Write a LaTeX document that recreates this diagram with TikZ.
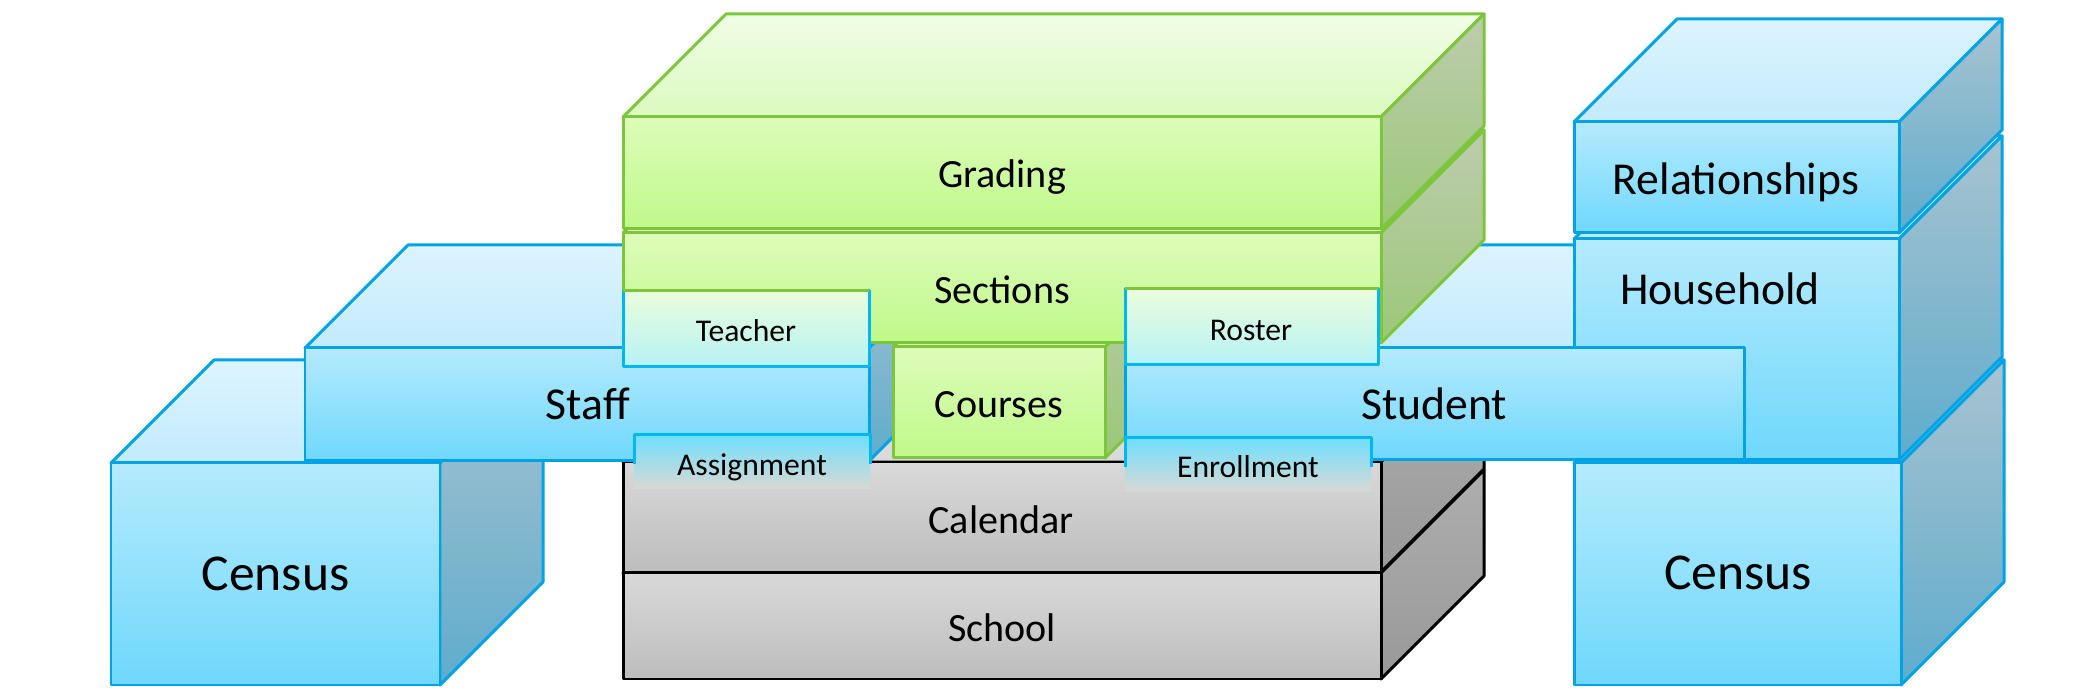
\documentclass[tikz,border=0pt]{standalone}
\usepackage{fontspec}
\setmainfont{Carlito}
\usepackage{xcolor}

\definecolor{bluF1}{HTML}{B5EAFD}
\definecolor{bluF2}{HTML}{6FD8FC}
\definecolor{bluT1}{HTML}{DDF4FE}
\definecolor{bluT2}{HTML}{C2EBFC}
\definecolor{bluR1}{HTML}{A8C3D0}
\definecolor{bluR2}{HTML}{5FACCD}
\definecolor{bluL}{HTML}{00A3E4}
\definecolor{grnF1}{HTML}{DDFCBA}
\definecolor{grnF2}{HTML}{BFF98A}
\definecolor{grnT1}{HTML}{F1FDE6}
\definecolor{grnT2}{HTML}{DBFABF}
\definecolor{grnR1}{HTML}{BDCCAE}
\definecolor{grnR2}{HTML}{9BC878}
\definecolor{grnL}{HTML}{7DC63B}
\definecolor{gryF1}{HTML}{D9D9D9}
\definecolor{gryF2}{HTML}{BDBDBD}
\definecolor{gryT1}{HTML}{E6E6E6}
\definecolor{gryT2}{HTML}{D9D9D9}
\definecolor{gryR1}{HTML}{AEAEAE}
\definecolor{gryR2}{HTML}{999999}
\definecolor{gryL}{HTML}{000000}
\definecolor{tabL}{HTML}{00B8F0}
\definecolor{tabG1}{HTML}{EAFDDD}
\definecolor{tabG2}{HTML}{D2FAB4}
\definecolor{tabG3}{HTML}{B6F2F5}
\definecolor{tabC1}{HTML}{6EDFFD}
\definecolor{tabC2}{HTML}{86DDF8}
\definecolor{tabC3}{HTML}{D9D9D4}

\begin{document}
\begin{tikzpicture}[line width=0.85pt, line join=round,
    lblbig/.style={anchor=base, font=\fontsize{14.7}{17}\selectfont},
    lbl/.style={anchor=base, font=\fontsize{13}{15}\selectfont},
    lblmid/.style={anchor=base, font=\fontsize{11.4}{13}\selectfont},
    lbltab/.style={anchor=base, font=\fontsize{9}{11}\selectfont}]
\useasboundingbox (0,0) rectangle (20.96,6.96);
\def\d{1.03}
% boxes, drawn from back to front
\foreach \xa/\xb/\ya/\yb/\col in {1.11/4.40/0.11/2.33/blu, 6.23/13.81/0.17/1.23/gry,
        6.23/13.81/1.24/2.34/gry, 3.05/8.69/2.35/3.48/blu, 8.93/11.05/2.38/3.49/grn,
        11.25/17.44/2.36/3.48/blu, 6.23/13.81/3.53/4.63/grn, 6.23/13.81/4.67/5.79/grn,
        15.74/19.01/0.11/2.33/blu, 15.74/18.99/2.36/4.57/blu, 15.74/18.99/4.63/5.74/blu} {
    \shadedraw[draw=\col L, top color=\col T1, bottom color=\col T2]
        (\xa,\yb) -- (\xb,\yb) -- (\xb+\d,\yb+\d) -- (\xa+\d,\yb+\d) -- cycle;
    \shadedraw[draw=\col L, top color=\col R1, bottom color=\col R2]
        (\xb,\ya) -- (\xb+\d,\ya+\d) -- (\xb+\d,\yb+\d) -- (\xb,\yb) -- cycle;
    \shadedraw[draw=\col L, top color=\col F1, bottom color=\col F2]
        (\xa,\ya) rectangle (\xb,\yb);
}
% student front lies over household
\shadedraw[draw=bluL, top color=bluF1, bottom color=bluF2] (11.25,2.36) rectangle (17.44,3.48);

% tabs
\foreach \xa/\xb/\ya/\yb in {6.23/8.69/3.29/4.05, 11.25/13.78/3.31/4.07} {
    \shadedraw[draw=tabL, top color=tabG1, middle color=tabG2, bottom color=tabG3]
        (\xa,\ya) rectangle (\xb,\yb);
    \draw[grnL] (\xa,\yb) -- (\xb,\yb);
}
\foreach \xa/\xb/\ya/\yb in {6.34/8.70/2.07/2.61, 11.25/13.71/2.04/2.58} {
    \shade[top color=tabC1, middle color=tabC2, bottom color=tabC3] (\xa,\ya) rectangle (\xb,\yb);
    \draw[tabL] (\xa,\ya+0.25) -- (\xa,\yb) -- (\xb,\yb) -- (\xb,\ya+0.25);
}

\node[lblbig] (censusL) at (2.755,1.05) {Census};
\node[lblbig] (censusR) at (17.38,1.06) {Census};
\node[lbl] (staff) at (5.88,2.76) {Staff};
\node[lbl] (student) at (14.34,2.76) {Student};
\node[lbl] (household) at (17.20,3.91) {Household};
\node[lbl] (relationships) at (17.36,5.01) {Relationships};
\node[lblmid] (grading) at (10.02,5.08) {Grading};
\node[lblmid] (sections) at (10.02,3.92) {Sections};
\node[lblmid] (courses) at (9.99,2.78) {Courses};
\node[lblmid] (calendar) at (10.01,1.62) {Calendar};
\node[lblmid] (school) at (10.02,0.54) {School};
\node[lbltab] (teacher) at (7.46,3.54) {Teacher};
\node[lbltab] (roster) at (12.51,3.55) {Roster};
\node[lbltab] (assignment) at (7.52,2.20) {Assignment};
\node[lbltab] (enrollment) at (12.48,2.18) {Enrollment};
\end{tikzpicture}
\end{document}
